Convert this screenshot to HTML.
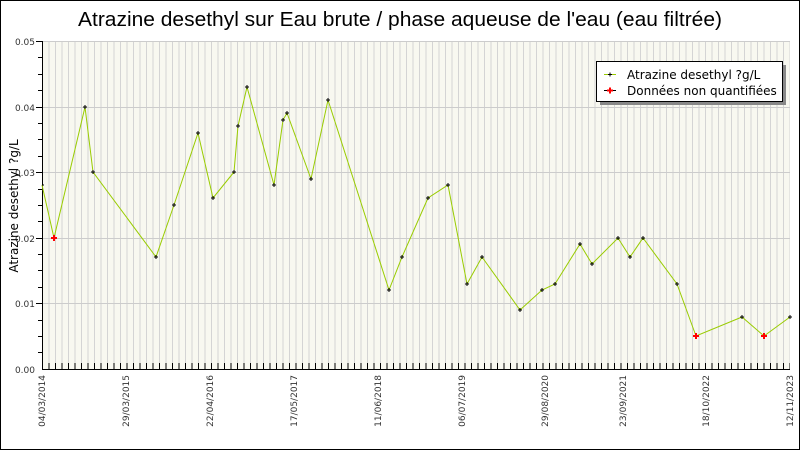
<!DOCTYPE html>
<html><head><meta charset="utf-8"><style>
html,body{margin:0;padding:0;background:#fff}
svg{display:block}
text{font-family:"DejaVu Sans","Liberation Sans",sans-serif}
</style></head><body>
<svg width="800" height="450" viewBox="0 0 800 450" xmlns="http://www.w3.org/2000/svg">
<defs>
<pattern id="vg" x="42" y="0" width="6.5" height="10" patternUnits="userSpaceOnUse">
<line x1="0.5" y1="0" x2="0.5" y2="10" stroke="#d4d4d4" stroke-width="1"/>
</pattern>
<pattern id="xt" x="42" y="0" width="6.5" height="10" patternUnits="userSpaceOnUse">
<line x1="0.5" y1="0" x2="0.5" y2="10" stroke="#000" stroke-width="1"/>
</pattern>
</defs>
<rect x="0.5" y="0.5" width="799" height="449" fill="#fff" stroke="#000"/>
<text x="400" y="26" font-size="20" text-anchor="middle" fill="#000" style="font-family:'Liberation Sans',sans-serif" textLength="644" lengthAdjust="spacingAndGlyphs">Atrazine desethyl sur Eau brute / phase aqueuse de l'eau (eau filtrée)</text>
<rect x="42" y="41" width="748" height="328" fill="#f8f8f0"/>
<rect x="42" y="41" width="748" height="328" fill="url(#vg)"/>
<g stroke="#cccccc" stroke-width="1">
<line x1="42" y1="41.5" x2="790" y2="41.5"/>
<line x1="42" y1="107.5" x2="790" y2="107.5"/>
<line x1="42" y1="172.5" x2="790" y2="172.5"/>
<line x1="42" y1="238.5" x2="790" y2="238.5"/>
<line x1="42" y1="303.5" x2="790" y2="303.5"/>
</g>
<rect x="42" y="363" width="748" height="6" fill="url(#xt)"/>
<g stroke="#000" stroke-width="1">
<line x1="42.5" y1="41" x2="42.5" y2="369"/>
<line x1="42" y1="369.5" x2="790" y2="369.5"/>
<line x1="36" y1="41.5" x2="42" y2="41.5"/>
<line x1="38" y1="57.5" x2="42" y2="57.5"/>
<line x1="38" y1="74.5" x2="42" y2="74.5"/>
<line x1="38" y1="90.5" x2="42" y2="90.5"/>
<line x1="36" y1="107.5" x2="42" y2="107.5"/>
<line x1="38" y1="123.5" x2="42" y2="123.5"/>
<line x1="38" y1="139.5" x2="42" y2="139.5"/>
<line x1="38" y1="156.5" x2="42" y2="156.5"/>
<line x1="36" y1="172.5" x2="42" y2="172.5"/>
<line x1="38" y1="189.5" x2="42" y2="189.5"/>
<line x1="38" y1="205.5" x2="42" y2="205.5"/>
<line x1="38" y1="221.5" x2="42" y2="221.5"/>
<line x1="36" y1="238.5" x2="42" y2="238.5"/>
<line x1="38" y1="254.5" x2="42" y2="254.5"/>
<line x1="38" y1="270.5" x2="42" y2="270.5"/>
<line x1="38" y1="287.5" x2="42" y2="287.5"/>
<line x1="36" y1="303.5" x2="42" y2="303.5"/>
<line x1="38" y1="320.5" x2="42" y2="320.5"/>
<line x1="38" y1="336.5" x2="42" y2="336.5"/>
<line x1="38" y1="352.5" x2="42" y2="352.5"/>
</g>
<g font-size="9" fill="#333" text-anchor="end">
<text x="35" y="45">0.05</text>
<text x="35" y="111">0.04</text>
<text x="35" y="176">0.03</text>
<text x="35" y="242">0.02</text>
<text x="35" y="307">0.01</text>
<text x="35" y="373">0.00</text>
</g>
<text transform="translate(18,206) rotate(-90)" font-size="12" text-anchor="middle" fill="#000">Atrazine desethyl ?g/L</text>
<g font-size="9" fill="#333" text-anchor="end">
<text transform="translate(45,375) rotate(-90)">04/03/2014</text>
<text transform="translate(129,375) rotate(-90)">29/03/2015</text>
<text transform="translate(213,375) rotate(-90)">22/04/2016</text>
<text transform="translate(297,375) rotate(-90)">17/05/2017</text>
<text transform="translate(381,375) rotate(-90)">11/06/2018</text>
<text transform="translate(465,375) rotate(-90)">06/07/2019</text>
<text transform="translate(548,375) rotate(-90)">29/08/2020</text>
<text transform="translate(626,375) rotate(-90)">23/09/2021</text>
<text transform="translate(709,375) rotate(-90)">18/10/2022</text>
<text transform="translate(793,375) rotate(-90)">12/11/2023</text>
</g>
<polyline fill="none" stroke="#99cc00" stroke-width="1" points="42,185 54,238 85,107 93,172 156,257 174,205 198,133 213,198 234,172 238,126 247,87 274,185 283,120 287,113 311,179 328,100 389,290 402,257 428,198 448,185 467,284 482,257 520,310 542,290 555,284 580,244 592,264 618,238 630,257 643,238 677,284 696,336 742,317 764,336 790,317"/>
<g stroke="#000" stroke-width="1">
<path d="M83,107h4M85,105v4 M91,172h4M93,170v4 M154,257h4M156,255v4 M172,205h4M174,203v4 M196,133h4M198,131v4 M211,198h4M213,196v4 M232,172h4M234,170v4 M236,126h4M238,124v4 M245,87h4M247,85v4 M272,185h4M274,183v4 M281,120h4M283,118v4 M285,113h4M287,111v4 M309,179h4M311,177v4 M326,100h4M328,98v4 M387,290h4M389,288v4 M400,257h4M402,255v4 M426,198h4M428,196v4 M446,185h4M448,183v4 M465,284h4M467,282v4 M480,257h4M482,255v4 M518,310h4M520,308v4 M540,290h4M542,288v4 M553,284h4M555,282v4 M578,244h4M580,242v4 M590,264h4M592,262v4 M616,238h4M618,236v4 M628,257h4M630,255v4 M641,238h4M643,236v4 M675,284h4M677,282v4 M740,317h4M742,315v4 M788,317h4M790,315v4 M42,185h2"/>
</g>
<g stroke="#ff0000" stroke-width="2">
<path d="M51,238h6M54,235v6 M693,336h6M696,333v6 M761,336h6M764,333v6"/>
</g>
<rect x="600" y="65" width="186" height="40" fill="#888"/>
<rect x="596.5" y="61.5" width="186" height="40" fill="#fff" stroke="#000"/>
<line x1="604" y1="74.5" x2="616" y2="74.5" stroke="#99cc00"/>
<path d="M608,74.5h4M610,72.5v4" stroke="#000"/>
<line x1="604" y1="90.5" x2="616" y2="90.5" stroke="#000"/>
<path d="M607,90.5h6M610,87.5v6" stroke="#ff0000" stroke-width="2"/>
<text x="627" y="79" font-size="12" fill="#000">Atrazine desethyl ?g/L</text>
<text x="627" y="95" font-size="12" fill="#000">Données non quantifiées</text>
</svg>
</body></html>
